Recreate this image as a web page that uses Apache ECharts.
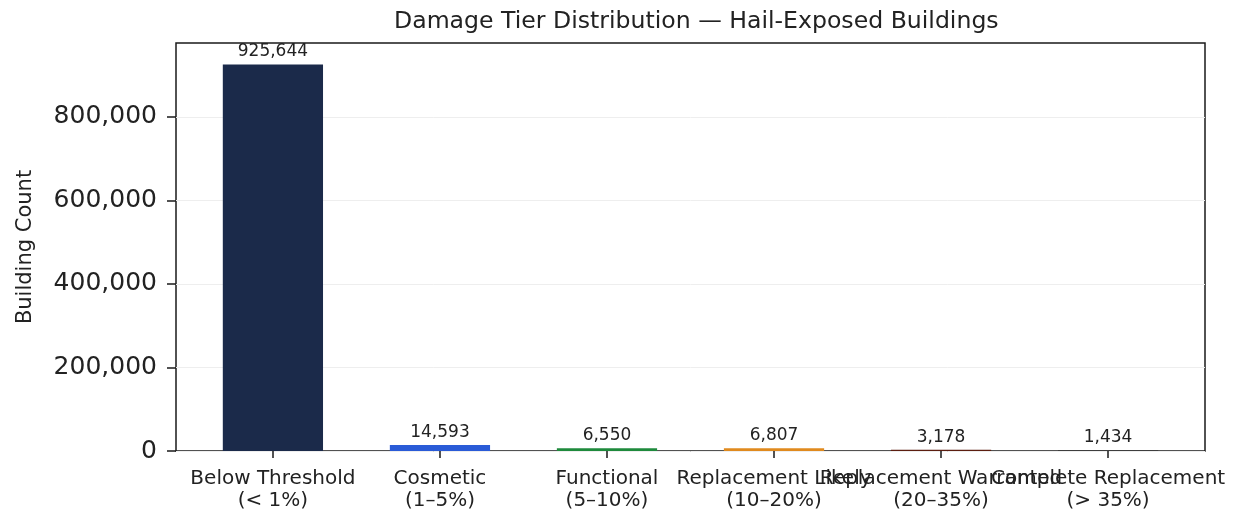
<!DOCTYPE html>
<html><head><meta charset="utf-8">
<script src="https://cdn.jsdelivr.net/npm/echarts@6/dist/echarts.min.js"></script>
<style>html,body{margin:0;padding:0;background:#fff}#c{width:1236px;height:514px}</style>
</head><body><div id="c"></div>
<script>
const categories = ["Below Threshold\n(< 1%)", "Cosmetic\n(1–5%)", "Functional\n(5–10%)", "Replacement Likely\n(10–20%)", "Replacement Warranted\n(20–35%)", "Complete Replacement\n(> 35%)"];
const counts = [925644, 14593, 6550, 6807, 3178, 1434];
const barColors = ["#1b2a4a", "#2a5bd7", "#1e8a3c", "#e08a1e", "#5c1e10", "#2b2b2b"];
const yTicks = [0, 200000, 400000, 600000, 800000];
const yMax = 977000;

const font = "DejaVu Sans";
const fmt = v => v.toLocaleString('en-US');
const chart = echarts.init(document.getElementById('c'), null, {renderer: 'canvas'});
chart.setOption({
  animation: false,
  backgroundColor: '#fff',
  textStyle: {fontFamily: font},
  title: {text: 'Damage Tier Distribution — Hail-Exposed Buildings', left: 389, top: 5,
    textStyle: {fontFamily: font, fontSize: 23.6, fontWeight: 'normal', color: '#222'}},
  grid: [
    {left: 176, right: 31, top: 43, bottom: 63, show: true, borderColor: '#1a1a1a', borderWidth: 1.5, backgroundColor: 'transparent'},
    {left: 189.4, right: 44.4, top: 43, bottom: 63}
  ],
  xAxis: [
    {type: 'value', gridIndex: 0, show: false, min: 0, max: 1},
    {type: 'category', gridIndex: 1, data: categories,
      axisLine: {show: false},
      axisTick: {show: true, alignWithLabel: true, length: 7, lineStyle: {color: '#1a1a1a', width: 1.5}},
      axisLabel: {interval: 0, hideOverlap: false, color: '#222', fontSize: 20, lineHeight: 22, margin: 17, fontFamily: font}}
  ],
  yAxis: [
    {type: 'value', gridIndex: 0, min: 0, max: yMax, interval: 200000,
      axisLine: {show: false},
      axisTick: {show: true, length: 9, lineStyle: {color: '#1a1a1a', width: 1.5},
        customValues: yTicks},
      axisLabel: {color: '#222', fontSize: 25, margin: 19, fontFamily: font, formatter: v => fmt(v),
        customValues: yTicks},
      splitLine: {show: true, lineStyle: {color: '#eeeeee', width: 1}},
      name: 'Building Count', nameLocation: 'middle', nameGap: 140, nameRotate: 90,
      nameTextStyle: {fontSize: 21, color: '#222', fontFamily: font}},
    {type: 'value', gridIndex: 1, min: 0, max: yMax, show: false, splitLine: {show: false}}
  ],
  series: [{
    type: 'bar', xAxisIndex: 1, yAxisIndex: 1, barWidth: '60%',
    data: counts.map((v, i) => ({value: v, itemStyle: {color: barColors[i]}})),
    label: {show: true, position: 'top', distance: 4, color: '#222', fontSize: 17, fontFamily: font, formatter: p => fmt(p.value)}
  }]
});
</script></body></html>
